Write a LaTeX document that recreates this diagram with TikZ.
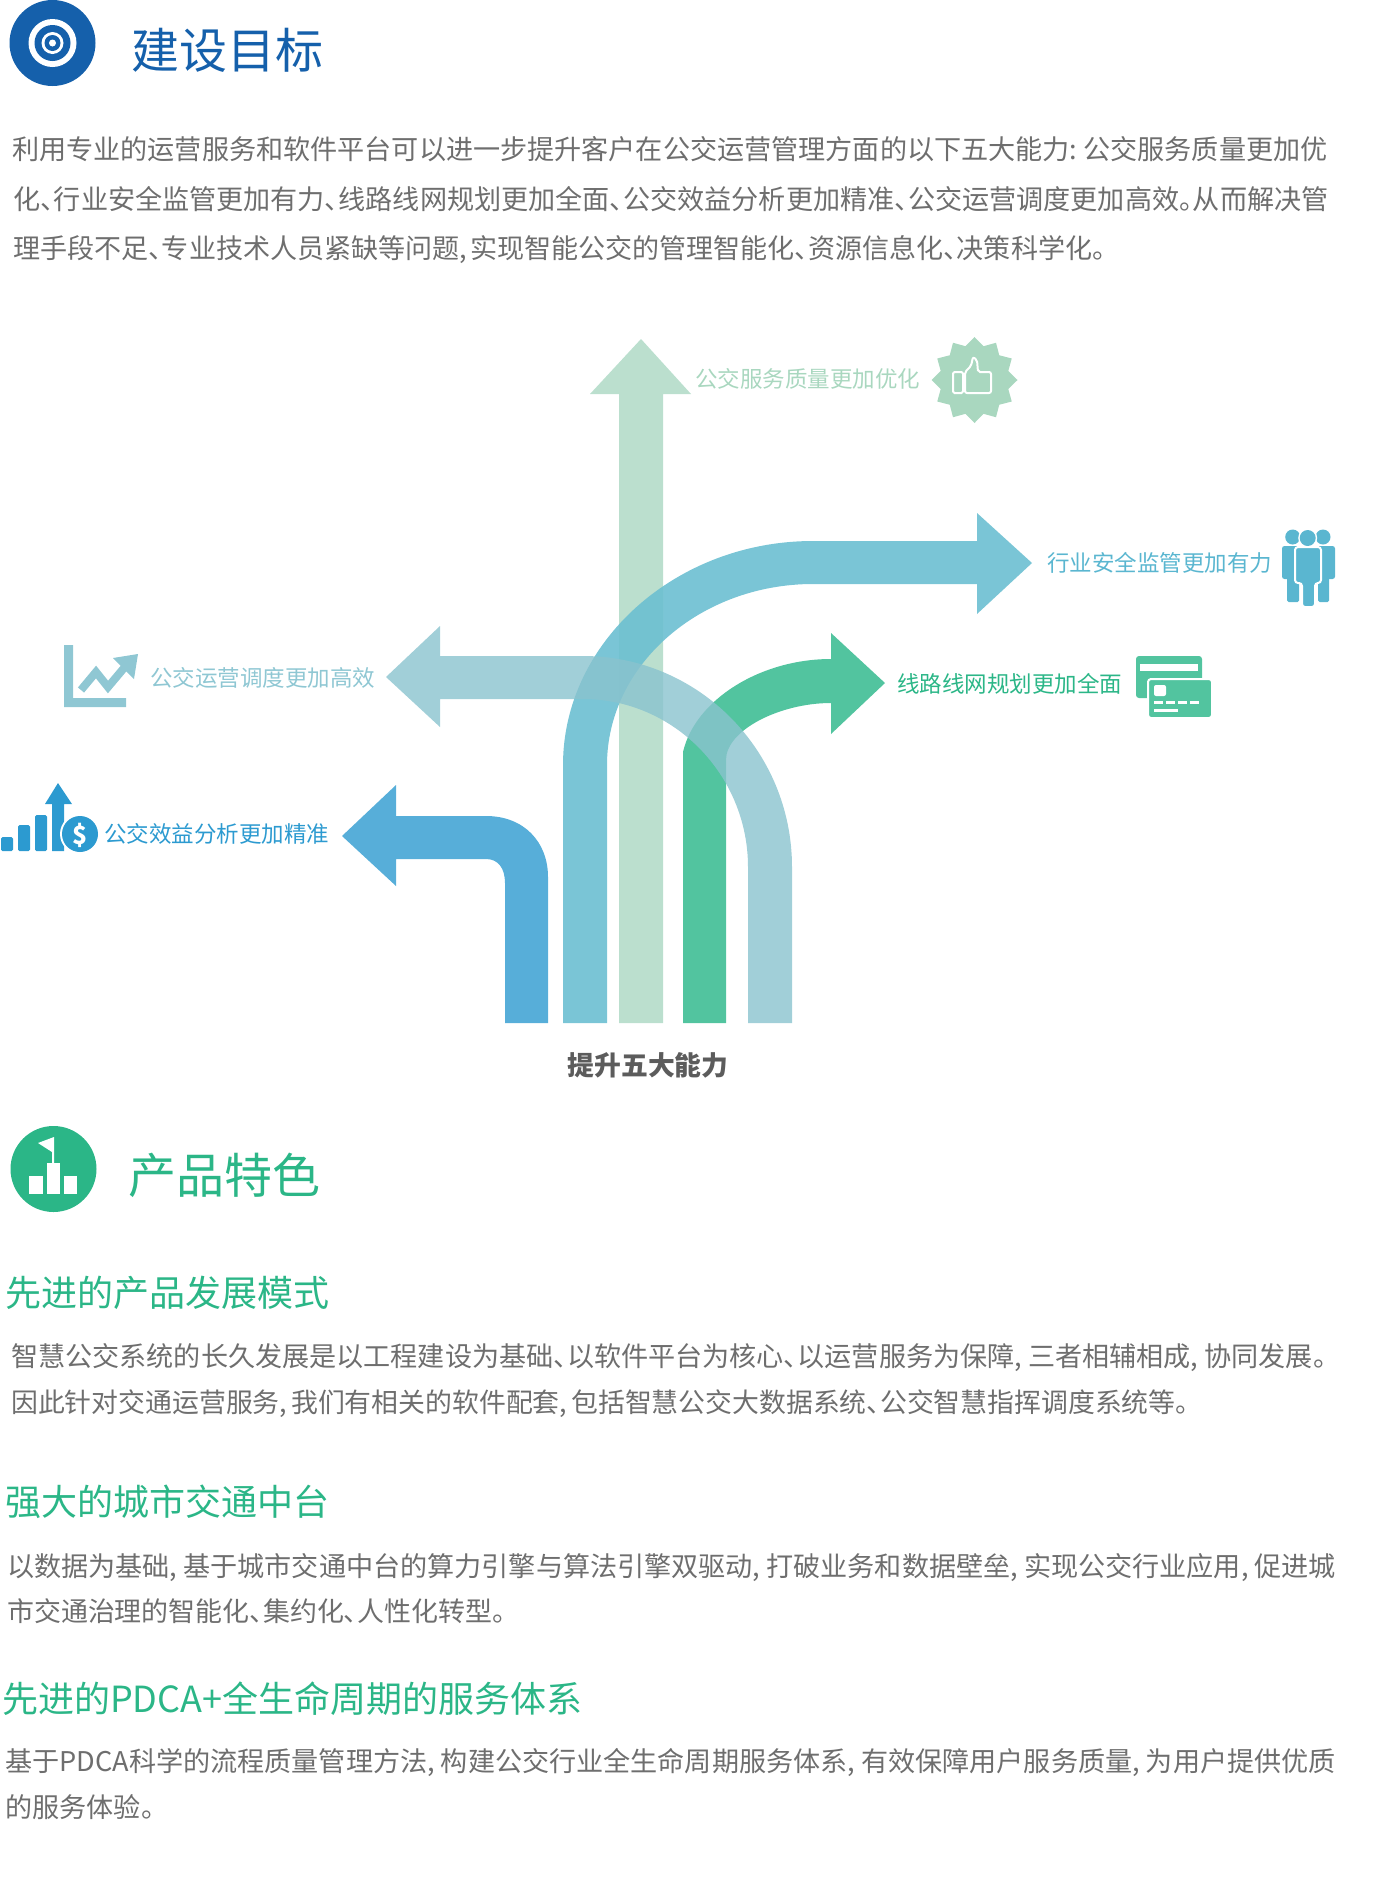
\documentclass[tikz,border=0pt]{standalone}
\usepackage{fontspec}
\setmainfont{Noto Sans CJK SC}[RawFeature=+palt]
\usepackage{xcolor}
\usetikzlibrary{positioning}
\definecolor{titleblue}{HTML}{1560AB}
\definecolor{titlegreen}{HTML}{2BB687}
\definecolor{bodygray}{HTML}{6E6E6E}
\definecolor{darkblue}{HTML}{57AED9}
\definecolor{skyblue}{HTML}{6CBFD1}
\definecolor{palegreen}{HTML}{BBDFCE}
\definecolor{midgreen}{HTML}{52C49F}
\definecolor{paleteal}{HTML}{8AC3CE}
\definecolor{iconpale}{HTML}{A9D7BF}
\definecolor{iconsky}{HTML}{5AB6D0}
\definecolor{icongreen}{HTML}{52C49F}
\definecolor{iconteal}{HTML}{8FC7D3}
\definecolor{iconblue}{HTML}{2C9AD0}
\newcommand{\cgap}[1]{,\kern#1pt}
\tikzstyle{heading} = [anchor=west, inner sep=0pt, font=\fontsize{48}{48}\selectfont]
\tikzstyle{subhead} = [anchor=west, inner sep=0pt, text=titlegreen, font=\fontsize{36}{36}\selectfont]
\tikzstyle{bodyline} = [anchor=west, inner sep=0pt, text=bodygray, font=\fontsize{27.12}{27}\selectfont]
\tikzstyle{label} = [anchor=west, inner sep=0pt, font=\fontsize{22.5}{23}\selectfont]

\begin{document}
\begin{tikzpicture}[x=1pt, y=-1pt]
  \useasboundingbox (0,0) rectangle (1393,1877);

  % first title
  \fill[titleblue] (52.5,43) circle (43);
  \fill[white] (52.5,43) circle (24);
  \fill[titleblue] (52.5,43) circle (18);
  \fill[white] (52.5,43) circle (11);
  \fill[titleblue] (52.5,43) circle (8);
  \fill[white] (52.5,43) circle (3.5);
  \node (goal) [heading, text=titleblue] at (131,50) {建设目标};
  \node (intro1) [bodyline] at (12,149) {利用专业的运营服务和软件平台可以进一步提升客户在公交运营管理方面的以下五大能力:\kern6pt 公交服务质量更加优};
  \node (intro2) [bodyline] at (13,199) {化、行业安全监管更加有力、线路线网规划更加全面、公交效益分析更加精准、公交运营调度更加高效。从而解决管};
  \node (intro3) [bodyline, font=\fontsize{27.05}{27}\selectfont] at (13,250) {理手段不足、专业技术人员紧缺等问题\cgap{3}实现智能公交的管理智能化、资源信息化、决策科学化。};

  % arrows
  \fill[darkblue] (505,1023) -- (505,883) .. controls (505,868) and (498,859) .. (486,859) -- (396,859) -- (396,886) -- (342,836) -- (396,785) -- (396,816) -- (486,816) .. controls (524,816) and (548,842) .. (548,877) -- (548,1023) -- cycle;
  \fill[palegreen] (619,1023) -- (619,394) -- (590,394) -- (641,339) -- (691,394) -- (663,394) -- (663,1023) -- cycle;
  \fill[skyblue, fill opacity=.9] (563,1023) -- (563,765) .. controls (563,642) and (676,541) .. (813,541) -- (977,541) -- (977,513) -- (1032,563) -- (977,614) -- (977,584) -- (813,584) .. controls (700,584) and (607,665) .. (607,765) -- (607,1023) -- cycle;
  \fill[midgreen] (683,1023) -- (683,752) .. controls (695,700) and (760,659) .. (831,659) -- (831,633) -- (885,683) -- (831,734) -- (831,703) .. controls (780,703) and (726,730) .. (726,760) -- (726,1023) -- cycle;
  \fill[paleteal, fill opacity=.8] (748,1023) -- (748,867) .. controls (748,775) and (674,699) .. (583,699) -- (440,699) -- (440,727) -- (386,677) -- (440,626) -- (440,656) -- (583,656) .. controls (698,656) and (792,750) .. (792,867) -- (792,1023) -- cycle;
  \node (ability) [anchor=center, inner sep=0pt, text=black!64, font=\fontsize{26.8}{27}\selectfont\bfseries] at (648,1065) {提升五大能力};

  % labels and icons
  \node (quality) [label, text=iconpale] at (695,379) {公交服务质量更加优化};
  \fill[iconpale] plot[domain=0:360, samples=25] ({974.5+(39+4*cos(12*\x))*sin(\x)},{380-(39+4*cos(12*\x))*cos(\x)}) -- cycle;
  \draw[white, line width=2pt, rounded corners=1.5pt] (953,372) rectangle (963,393);
  \draw[white, line width=2pt, rounded corners=2pt] (965,372) -- (971,366) -- (973,357) -- (977,360) -- (978,372) -- (991,372) -- (991,393) -- (965,393) -- cycle;

  \node (safety) [label, text=iconsky] at (1047,563) {行业安全监管更加有力};
  \fill[iconsky] (1292.7,537) circle (7.5);
  \fill[iconsky] (1323,537) circle (7.5);
  \fill[iconsky, rounded corners=2.5pt] (1282,546) rectangle (1299,579);
  \fill[iconsky, rounded corners=1.5pt] (1287,570) rectangle (1299,602);
  \fill[iconsky, rounded corners=2.5pt] (1317,546) rectangle (1335,579);
  \fill[iconsky, rounded corners=1.5pt] (1318,570) rectangle (1329,602);
  \fill[white] (1307.7,538) circle (9.5);
  \fill[iconsky] (1307.7,538) circle (8);
  \draw[white, line width=2pt, fill=iconsky, rounded corners=3pt] (1295,547) -- (1321,547) -- (1321,583) -- (1315,583) -- (1315,607) -- (1302,607) -- (1302,583) -- (1295,583) -- cycle;

  \node (network) [label, text=titlegreen] at (897,683.5) {线路线网规划更加全面};
  \fill[icongreen, rounded corners=3pt] (1136,656) rectangle (1202,698);
  \fill[white] (1140,664) rectangle (1198,671);
  \draw[white, line width=2pt, fill=icongreen, rounded corners=3pt] (1148,679) rectangle (1212,718);
  \fill[white, rounded corners=2pt] (1154,685) rectangle (1166,696);
  \foreach \dx in {1154,1166,1178,1190}{
    \fill[white] (\dx,701) rectangle (\dx+9,704);
  }
  \fill[white] (1154,709) rectangle (1178,712);

  \node (dispatch) [label, text=iconteal] at (150,677.5) {公交运营调度更加高效};
  \fill[iconteal] (64,645) -- (73,645) -- (73,698) -- (126,698) -- (126,707) -- (64,707) -- cycle;
  \draw[iconteal, line width=8pt] (81,690) -- (96,672) -- (108,687) -- (124,668);
  \fill[iconteal] (138,654) -- (113,658) -- (134,679) -- cycle;

  \node (benefit) [label, text=iconblue] at (104,833.5) {公交效益分析更加精准};
  \fill[iconblue, rounded corners=1.5pt] (1,837) rectangle (13,851);
  \fill[iconblue, rounded corners=1.5pt] (18,825) rectangle (30,851);
  \fill[iconblue, rounded corners=1.5pt] (35,815) rectangle (47,851);
  \fill[iconblue] (52,851) -- (52,804) -- (45,804) -- (58,783) -- (72,804) -- (64,804) -- (64,851) -- cycle;
  \fill[white] (80,834) circle (20);
  \fill[iconblue] (80,834) circle (18);
  \node (dollar) [anchor=center, inner sep=0pt, text=white, font=\fontsize{25}{25}\selectfont\bfseries] at (80,835) {\$};

  % second title
  \fill[titlegreen] (53.5,1169) circle (43);
  \fill[white] (29,1176) rectangle (43,1194);
  \fill[white] (47,1163) rectangle (60,1194);
  \fill[white] (64,1176) rectangle (77,1194);
  \fill[white] (38,1143) -- (54,1137) -- (54,1163) -- (52,1163) -- (52,1152) -- cycle;
  \node (feature) [heading, text=titlegreen] at (128.5,1175) {产品特色};

  \node (mode) [subhead] at (5,1293) {先进的产品发展模式};
  \node (mode1) [bodyline] at (11,1358) {智慧公交系统的长久发展是以工程建设为基础、以软件平台为核心、以运营服务为保障\cgap{6}三者相辅相成\cgap{6}协同发展。};
  \node (mode2) [bodyline, font=\fontsize{26.86}{27}\selectfont] at (11,1404) {因此针对交通运营服务\cgap{4}我们有相关的软件配套\cgap{4}包括智慧公交大数据系统、公交智慧指挥调度系统等。};

  \node (hub) [subhead] at (5,1501.5) {强大的城市交通中台};
  \node (hub1) [bodyline] at (7,1568) {以数据为基础\cgap{6}基于城市交通中台的算力引擎与算法引擎双驱动\cgap{6}打破业务和数据壁垒\cgap{6}实现公交行业应用\cgap{6}促进城};
  \node (hub2) [bodyline, font=\fontsize{26.95}{27}\selectfont] at (7,1611.5) {市交通治理的智能化、集约化、人性化转型。};

  \node (pdca) [subhead] at (2,1699) {先进的PDCA+全生命周期的服务体系};
  \node (pdca1) [bodyline] at (5,1763) {基于PDCA科学的流程质量管理方法\cgap{6}构建公交行业全生命周期服务体系\cgap{6}有效保障用户服务质量\cgap{6}为用户提供优质};
  \node (pdca2) [bodyline] at (5,1807) {的服务体验。};
\end{tikzpicture}
\end{document}
